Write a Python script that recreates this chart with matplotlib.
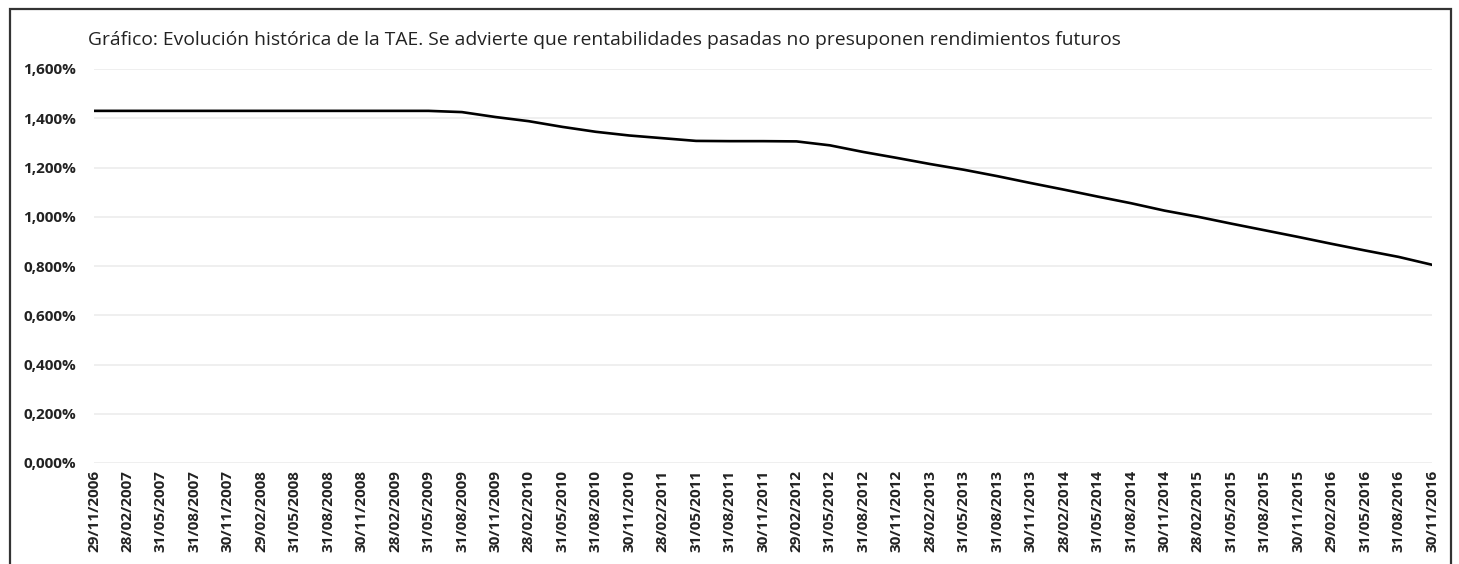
import matplotlib
matplotlib.use('Agg')
import matplotlib.pyplot as plt
from matplotlib.ticker import FuncFormatter
from matplotlib.patches import Rectangle

# fechas trimestrales del eje
fechas = ['29/11/2006', '28/02/2007', '31/05/2007', '31/08/2007', '30/11/2007',
          '29/02/2008', '31/05/2008', '31/08/2008', '30/11/2008', '28/02/2009',
          '31/05/2009', '31/08/2009', '30/11/2009', '28/02/2010', '31/05/2010',
          '31/08/2010', '30/11/2010', '28/02/2011', '31/05/2011', '31/08/2011',
          '30/11/2011', '29/02/2012', '31/05/2012', '31/08/2012', '30/11/2012',
          '28/02/2013', '31/05/2013', '31/08/2013', '30/11/2013', '28/02/2014',
          '31/05/2014', '31/08/2014', '30/11/2014', '28/02/2015', '31/05/2015',
          '31/08/2015', '30/11/2015', '29/02/2016', '31/05/2016', '31/08/2016',
          '30/11/2016']

# TAE (%)
tae = [1.430, 1.430, 1.430, 1.430, 1.430, 1.430, 1.430, 1.430, 1.430, 1.430,
       1.430, 1.425, 1.405, 1.388, 1.365, 1.345, 1.330, 1.319, 1.308, 1.307,
       1.307, 1.306, 1.290, 1.263, 1.239, 1.214, 1.191, 1.165, 1.137, 1.110,
       1.082, 1.055, 1.025, 1.000, 0.972, 0.945, 0.918, 0.890, 0.863, 0.837,
       0.805]

titulo = ('Gráfico: Evolución histórica de la TAE. Se advierte que rentabilidades '
          'pasadas no presuponen rendimientos futuros')

W, H = 1459, 564
fig = plt.figure(figsize=(W / 100, H / 100), dpi=100)
fig.patch.set_facecolor('white')

# marco del grafico
fig.patches.append(Rectangle((10 / W, -0.05), 1441 / W, (H - 9) / H + 0.05,
                             transform=fig.transFigure, fill=False,
                             edgecolor='#333333', linewidth=1.6))

ax = fig.add_axes([94 / W, (H - 463) / H, (1432 - 94) / W, (463 - 69) / H])
ax.plot(range(len(tae)), tae, color='black', linewidth=1.9)

ax.set_xlim(0, len(fechas) - 1)
ax.set_ylim(0, 1.6)
ax.set_yticks([0, 0.2, 0.4, 0.6, 0.8, 1.0, 1.2, 1.4, 1.6])
ax.yaxis.set_major_formatter(FuncFormatter(lambda v, p: f'{v:.3f}'.replace('.', ',') + '%'))
ax.set_xticks(range(len(fechas)))
ax.set_xticklabels(fechas, rotation=90)

for s in ax.spines.values():
    s.set_visible(False)
ax.grid(axis='y', color='#ececec', linewidth=1.2)
ax.set_axisbelow(True)
ax.tick_params(axis='both', length=0)
ax.tick_params(axis='y', pad=13)
ax.tick_params(axis='x', pad=5)
for lab in ax.get_yticklabels() + ax.get_xticklabels():
    lab.set_fontfamily('Open Sans')
    lab.set_fontweight('bold')
    lab.set_fontsize(11)
    lab.set_color('#222222')

fig.text(88 / W, (H - 45) / H, titulo, fontsize=13.9, family='Open Sans',
         color='#222222', va='baseline', ha='left')

fig.savefig('out.png', dpi=100, facecolor='white')
